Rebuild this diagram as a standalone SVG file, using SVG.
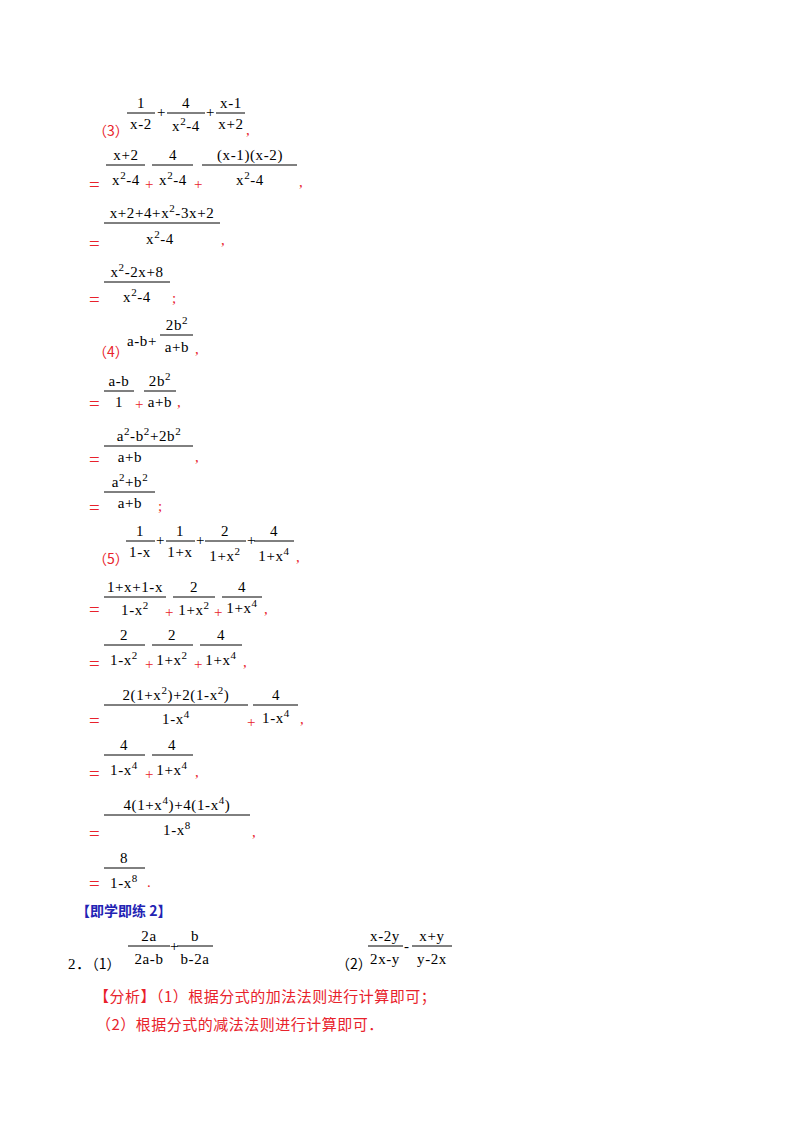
<svg xmlns="http://www.w3.org/2000/svg" width="800" height="1132" viewBox="0 0 800 1132">
<style>
text{font-family:"Liberation Serif","Noto Sans CJK SC",serif;font-size:15px;letter-spacing:0.6px;fill:#000}
.r{fill:#e8222b}
.c{text-anchor:middle}
.s{font-size:11px}
.k{font-family:"Noto Sans CJK SC",sans-serif;font-size:14px;letter-spacing:0}
.h{fill:#2323b4;font-weight:bold;font-family:"Noto Sans CJK SC",sans-serif;font-size:14px;letter-spacing:0}
.t{font-family:"Noto Sans CJK SC",sans-serif;font-size:15px;letter-spacing:0.5px}
.e{font-size:19px}
line{stroke:#000;stroke-width:1}
</style>
<rect width="800" height="1132" fill="#fff"/>
<g id="p3">
<text class="r k" x="93" y="136">（3）</text>
<line x1="127" y1="113" x2="155" y2="113"/><text class="c" x="141" y="108">1</text><text class="c" x="141" y="129">x-2</text>
<text x="157" y="117">+</text>
<line x1="167" y1="113" x2="205" y2="113"/><text class="c" x="186" y="108">4</text><text class="c" x="186" y="131">x<tspan class="s" dy="-6">2</tspan><tspan dy="6">-4</tspan></text>
<text x="206" y="117">+</text>
<line x1="216" y1="113" x2="245" y2="113"/><text class="c" x="231" y="108">x-1</text><text class="c" x="231" y="129">x+2</text>
<text class="r" x="246" y="135">,</text>
<text class="r e" x="89" y="191">=</text>
<line x1="106" y1="165" x2="145" y2="165"/><text class="c" x="126" y="160">x+2</text><text class="c" x="126" y="185">x<tspan class="s" dy="-6">2</tspan><tspan dy="6">-4</tspan></text>
<text class="r" x="145" y="189">+</text>
<line x1="152" y1="165" x2="193" y2="165"/><text class="c" x="173" y="160">4</text><text class="c" x="173" y="185">x<tspan class="s" dy="-6">2</tspan><tspan dy="6">-4</tspan></text>
<text class="r" x="194" y="189">+</text>
<line x1="202" y1="165" x2="297" y2="165"/><text class="c" x="250" y="160">(x-1)(x-2)</text><text class="c" x="250" y="185">x<tspan class="s" dy="-6">2</tspan><tspan dy="6">-4</tspan></text>
<text class="r" x="299" y="187">,</text>
<text class="r e" x="89" y="250">=</text>
<line x1="104" y1="223" x2="220" y2="223"/><text class="c" x="162" y="218">x+2+4+x<tspan class="s" dy="-6">2</tspan><tspan dy="6">-3x+2</tspan></text><text class="c" x="160" y="244">x<tspan class="s" dy="-6">2</tspan><tspan dy="6">-4</tspan></text>
<text class="r" x="221" y="245">,</text>
<text class="r e" x="89" y="306">=</text>
<line x1="104" y1="282" x2="170" y2="282"/><text class="c" x="137" y="277">x<tspan class="s" dy="-6">2</tspan><tspan dy="6">-2x+8</tspan></text><text class="c" x="137" y="302">x<tspan class="s" dy="-6">2</tspan><tspan dy="6">-4</tspan></text>
<text class="r" x="172" y="303">;</text>
</g>
<g id="p4">
<text class="r k" x="93" y="357">（4）</text>
<text x="127" y="346">a-b+</text>
<line x1="160" y1="335" x2="193" y2="335"/><text class="c" x="177" y="330">2b<tspan class="s" dy="-6">2</tspan></text><text class="c" x="177" y="352">a+b</text>
<text class="r" x="195" y="354">,</text>
<text class="r e" x="89" y="410">=</text>
<line x1="104" y1="391" x2="134" y2="391"/><text class="c" x="119" y="386">a-b</text><text class="c" x="119" y="407">1</text>
<text class="r" x="135" y="409">+</text>
<line x1="144" y1="391" x2="176" y2="391"/><text class="c" x="160" y="386">2b<tspan class="s" dy="-6">2</tspan></text><text class="c" x="160" y="407">a+b</text>
<text class="r" x="177" y="407">,</text>
<text class="r e" x="89" y="466">=</text>
<line x1="104" y1="446" x2="193" y2="446"/><text class="c" x="149" y="441">a<tspan class="s" dy="-6">2</tspan><tspan dy="6">-b</tspan><tspan class="s" dy="-6">2</tspan><tspan dy="6">+2b</tspan><tspan class="s" dy="-6">2</tspan></text><text class="c" x="130" y="462">a+b</text>
<text class="r" x="195" y="462">,</text>
<text class="r e" x="89" y="514">=</text>
<line x1="104" y1="492" x2="155" y2="492"/><text class="c" x="130" y="487">a<tspan class="s" dy="-6">2</tspan><tspan dy="6">+b</tspan><tspan class="s" dy="-6">2</tspan></text><text class="c" x="130" y="508">a+b</text>
<text class="r" x="158" y="511">;</text>
</g>
<g id="p5">
<text class="r k" x="93" y="564">（5）</text>
<line x1="126" y1="541" x2="155" y2="541"/><text class="c" x="140" y="536">1</text><text class="c" x="140" y="557">1-x</text>
<text x="156" y="545">+</text>
<line x1="166" y1="541" x2="195" y2="541"/><text class="c" x="180" y="536">1</text><text class="c" x="180" y="557">1+x</text>
<text x="196" y="545">+</text>
<line x1="205" y1="541" x2="246" y2="541"/><text class="c" x="225" y="536">2</text><text class="c" x="225" y="561">1+x<tspan class="s" dy="-6">2</tspan></text>
<text x="247" y="545">+</text>
<line x1="254" y1="541" x2="294" y2="541"/><text class="c" x="274" y="536">4</text><text class="c" x="274" y="561">1+x<tspan class="s" dy="-6">4</tspan></text>
<text class="r" x="296" y="562">,</text>
<text class="r e" x="89" y="616">=</text>
<line x1="104" y1="597" x2="166" y2="597"/><text class="c" x="135" y="592">1+x+1-x</text><text class="c" x="135" y="615">1-x<tspan class="s" dy="-6">2</tspan></text>
<text class="r" x="165" y="617">+</text>
<line x1="173" y1="597" x2="215" y2="597"/><text class="c" x="194" y="592">2</text><text class="c" x="194" y="615">1+x<tspan class="s" dy="-6">2</tspan></text>
<text class="r" x="214" y="617">+</text>
<line x1="222" y1="597" x2="262" y2="597"/><text class="c" x="242" y="592">4</text><text class="c" x="242" y="613">1+x<tspan class="s" dy="-6">4</tspan></text>
<text class="r" x="264" y="614">,</text>
<text class="r e" x="89" y="670">=</text>
<line x1="104" y1="645" x2="145" y2="645"/><text class="c" x="124" y="640">2</text><text class="c" x="124" y="665">1-x<tspan class="s" dy="-6">2</tspan></text>
<text class="r" x="145" y="669">+</text>
<line x1="152" y1="645" x2="193" y2="645"/><text class="c" x="172" y="640">2</text><text class="c" x="172" y="665">1+x<tspan class="s" dy="-6">2</tspan></text>
<text class="r" x="194" y="669">+</text>
<line x1="200" y1="645" x2="242" y2="645"/><text class="c" x="221" y="640">4</text><text class="c" x="221" y="665">1+x<tspan class="s" dy="-6">4</tspan></text>
<text class="r" x="243" y="667">,</text>
<text class="r e" x="89" y="727">=</text>
<line x1="104" y1="705" x2="248" y2="705"/><text class="c" x="176" y="700">2(1+x<tspan class="s" dy="-6">2</tspan><tspan dy="6">)+2(1-x</tspan><tspan class="s" dy="-6">2</tspan><tspan dy="6">)</tspan></text><text class="c" x="176" y="724">1-x<tspan class="s" dy="-6">4</tspan></text>
<text class="r" x="247" y="727">+</text>
<line x1="253" y1="705" x2="298" y2="705"/><text class="c" x="276" y="700">4</text><text class="c" x="276" y="723">1-x<tspan class="s" dy="-6">4</tspan></text>
<text class="r" x="300" y="724">,</text>
<text class="r e" x="89" y="780">=</text>
<line x1="104" y1="755" x2="145" y2="755"/><text class="c" x="124" y="750">4</text><text class="c" x="124" y="775">1-x<tspan class="s" dy="-6">4</tspan></text>
<text class="r" x="145" y="779">+</text>
<line x1="152" y1="755" x2="193" y2="755"/><text class="c" x="172" y="750">4</text><text class="c" x="172" y="775">1+x<tspan class="s" dy="-6">4</tspan></text>
<text class="r" x="195" y="777">,</text>
<text class="r e" x="89" y="840">=</text>
<line x1="104" y1="815" x2="250" y2="815"/><text class="c" x="177" y="810">4(1+x<tspan class="s" dy="-6">4</tspan><tspan dy="6">)+4(1-x</tspan><tspan class="s" dy="-6">4</tspan><tspan dy="6">)</tspan></text><text class="c" x="177" y="835">1-x<tspan class="s" dy="-6">8</tspan></text>
<text class="r" x="252" y="837">,</text>
<text class="r e" x="89" y="890">=</text>
<line x1="104" y1="868" x2="145" y2="868"/><text class="c" x="124" y="863">8</text><text class="c" x="124" y="888">1-x<tspan class="s" dy="-6">8</tspan></text>
<text class="r" x="147" y="887">.</text>
</g>
<g id="practice">
<text class="h" x="76" y="916">【即学即练 2】</text>
<text x="68" y="969">2．<tspan class="k">（1）</tspan></text>
<line x1="128" y1="946" x2="170" y2="946"/><text class="c" x="149" y="941">2a</text><text class="c" x="149" y="964">2a-b</text>
<text x="170" y="951">+</text>
<line x1="177" y1="946" x2="213" y2="946"/><text class="c" x="195" y="941">b</text><text class="c" x="195" y="964">b-2a</text>
<text class="k" x="336" y="969">（2）</text>
<line x1="368" y1="946" x2="403" y2="946"/><text class="c" x="385" y="941">x-2y</text><text class="c" x="385" y="964">2x-y</text>
<text x="404" y="951">-</text>
<line x1="412" y1="946" x2="452" y2="946"/><text class="c" x="432" y="941">x+y</text><text class="c" x="432" y="964">y-2x</text>
<text class="r t" x="94" y="1002">【分析】（1）根据分式的加法法则进行计算即可；</text>
<text class="r t" x="96" y="1030">（2）根据分式的减法法则进行计算即可．</text>
</g>
</svg>
